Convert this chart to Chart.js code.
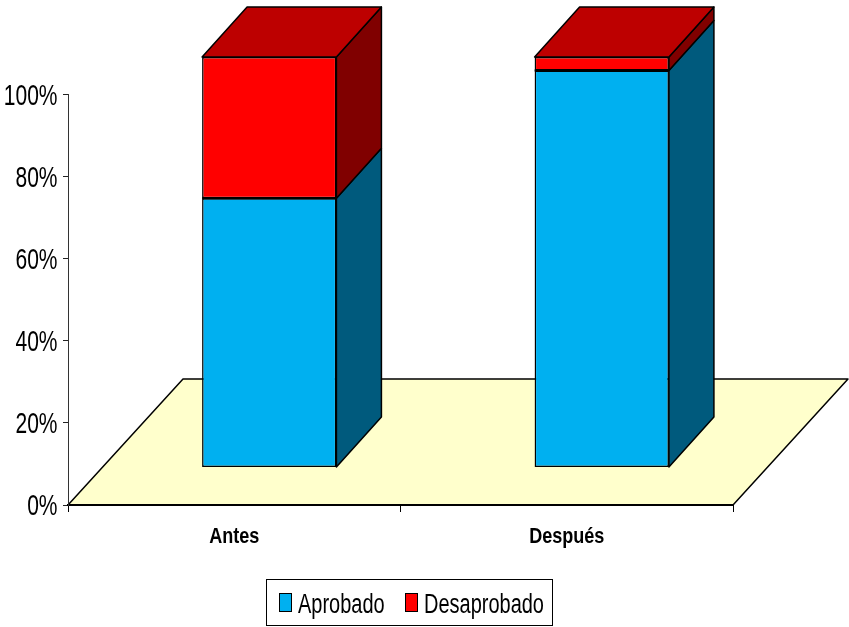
<!DOCTYPE html>
<html>
<head>
<meta charset="utf-8">
<title>Antes / Después</title>
<script src="https://cdn.jsdelivr.net/npm/chart.js@4/dist/chart.umd.min.js"></script>
<style>
html, body { margin: 0; padding: 0; background: #fff; }
canvas { display: block; }
</style>
</head>
<body>
<canvas id="chart" width="849" height="627"></canvas>
<script>
var categories = ["Antes", "Después"];
var aprobado = [65.6, 96.7];
var desaprobado = [34.4, 3.3];
var seriesLabels = ["Aprobado", "Desaprobado"];
var yTicks = ["0%", "20%", "40%", "60%", "80%", "100%"];

var seriesColors = ["#00B0F0", "#FF0000"];
var sideColors = ["#005A7D", "#800000"];
var topColor = "#BD0000";
var floorColor = "#FFFFCC";

// the bars stand on the floor, this far in from the axis plane
var barShift = { x: 35, y: -37.5 };
var barDepth = { x: 45, y: -50 };
var floorDepth = { x: 115, y: -126 };

// text in the reference is a squeezed Arial, so draw it with a horizontal scale
function squeezedText(ctx, text, x, y, font, sx, align) {
    ctx.save();
    ctx.font = font;
    ctx.fillStyle = "#000";
    ctx.textBaseline = "middle";
    ctx.textAlign = align;
    ctx.translate(x, y);
    ctx.scale(sx, 1);
    ctx.fillText(text, 0, 0);
    ctx.restore();
}

function poly(ctx, pts, fill, lineWidth) {
    ctx.beginPath();
    ctx.moveTo(pts[0][0], pts[0][1]);
    for (var i = 1; i < pts.length; i++) {
        ctx.lineTo(pts[i][0], pts[i][1]);
    }
    ctx.closePath();
    ctx.fillStyle = fill;
    ctx.fill();
    ctx.lineWidth = lineWidth;
    ctx.strokeStyle = "#000";
    ctx.lineJoin = "round";
    ctx.stroke();
}

var box3d = {
    id: "box3d",
    beforeDraw: function(chart) {
        var ctx = chart.ctx;
        var a = chart.chartArea;
        ctx.save();
        poly(ctx, [
            [a.left, a.bottom],
            [a.right, a.bottom],
            [a.right + floorDepth.x, a.bottom + floorDepth.y],
            [a.left + floorDepth.x, a.bottom + floorDepth.y]
        ], floorColor, 1.5);
        ctx.restore();
    },
    beforeDatasetsDraw: function(chart) {
        var ctx = chart.ctx;
        var dx = barDepth.x, dy = barDepth.y;
        ctx.save();
        ctx.translate(barShift.x, barShift.y);
        // side faces and lid, the bars themselves come on top of these
        chart.data.datasets.forEach(function(ds, d) {
            chart.getDatasetMeta(d).data.forEach(function(bar) {
                var p = bar.getProps(["x", "y", "base", "width"], true);
                var r = p.x + p.width / 2;
                var l = p.x - p.width / 2;
                poly(ctx, [[r, p.base], [r + dx, p.base + dy], [r + dx, p.y + dy], [r, p.y]], sideColors[d], 1.5);
                if (d === chart.data.datasets.length - 1) {
                    poly(ctx, [[l, p.y], [r, p.y], [r + dx, p.y + dy], [l + dx, p.y + dy]], topColor, 1.5);
                }
            });
        });
    },
    afterDatasetsDraw: function(chart) {
        var ctx = chart.ctx;
        // one clean line where the two stacked parts meet
        chart.getDatasetMeta(0).data.forEach(function(bar) {
            var p = bar.getProps(["x", "y", "width"], true);
            ctx.beginPath();
            ctx.moveTo(p.x - p.width / 2, p.y);
            ctx.lineTo(p.x + p.width / 2, p.y);
            ctx.lineWidth = 2;
            ctx.strokeStyle = "#000";
            ctx.stroke();
        });
        ctx.restore();
    },
    afterDraw: function(chart) {
        var ctx = chart.ctx;
        var yScale = chart.scales.y;
        var xScale = chart.scales.x;

        yScale.ticks.forEach(function(t, i) {
            squeezedText(ctx, yTicks[i], 57.5, yScale.getPixelForTick(i) + 2, "30px 'Liberation Sans'", 0.7, "right");
        });
        xScale.ticks.forEach(function(t, i) {
            squeezedText(ctx, categories[i], xScale.getPixelForTick(i), 537, "bold 22px 'Liberation Sans'", 0.82, "center");
        });

        // legend
        ctx.save();
        ctx.fillStyle = "#fff";
        ctx.strokeStyle = "#000";
        ctx.lineWidth = 1;
        ctx.fillRect(266.5, 579.5, 286, 46);
        ctx.strokeRect(266.5, 579.5, 286, 46);
        ctx.restore();
        var swatchX = [279.5, 405.5];
        var textX = [298, 424];
        seriesLabels.forEach(function(label, i) {
            ctx.save();
            ctx.fillStyle = seriesColors[i];
            ctx.strokeStyle = "#000";
            ctx.lineWidth = 1;
            ctx.fillRect(swatchX[i], 593.5, 12, 18);
            ctx.strokeRect(swatchX[i], 593.5, 12, 18);
            ctx.restore();
            squeezedText(ctx, label, textX[i], 606, "27px 'Liberation Sans'", 0.74, "left");
        });
    }
};

new Chart(document.getElementById("chart"), {
    type: "bar",
    data: {
        labels: categories,
        datasets: [
            { label: seriesLabels[0], data: aprobado, backgroundColor: seriesColors[0] },
            { label: seriesLabels[1], data: desaprobado, backgroundColor: seriesColors[1] }
        ]
    },
    options: {
        responsive: false,
        animation: false,
        layout: { padding: { left: 63, right: 116, top: 94.5, bottom: 115 } },
        datasets: {
            bar: {
                clip: false,
                borderColor: "#000",
                borderWidth: 1.5,
                borderSkipped: false,
                barPercentage: 1,
                categoryPercentage: 0.404
            }
        },
        plugins: {
            legend: { display: false },
            tooltip: { enabled: false }
        },
        scales: {
            x: {
                stacked: true,
                ticks: { display: false },
                grid: { drawOnChartArea: false, tickLength: 7, color: "#000", tickWidth: 1 },
                border: { color: "#000", width: 2 }
            },
            y: {
                stacked: true,
                min: 0,
                max: 100,
                ticks: { display: false, stepSize: 20 },
                grid: { drawOnChartArea: false, tickLength: 5, color: "#222", tickWidth: 1 },
                border: { color: "#333", width: 1 }
            }
        }
    },
    plugins: [box3d]
});
</script>
</body>
</html>
